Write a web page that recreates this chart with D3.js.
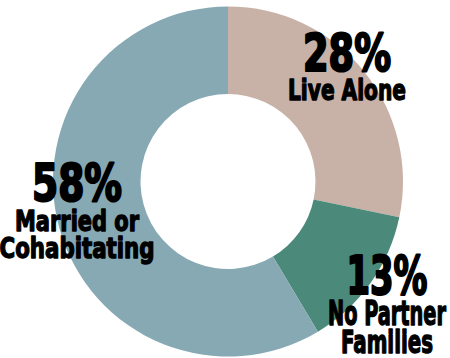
<!DOCTYPE html>
<html>
<head>
<meta charset="utf-8">
<script src="https://cdn.jsdelivr.net/npm/d3@7"></script>
<style>
  html, body { margin: 0; padding: 0; background: #fff; }
  svg { display: block; }
  .pct, .name {
    font-family: "Liberation Sans Narrow", "DejaVu Sans Condensed", "Arial Narrow", sans-serif;
    font-weight: 700;
    fill: #000;
    stroke: #000;
    stroke-linejoin: round;
  }
</style>
</head>
<body>
<svg id="chart" width="450" height="358"></svg>
<script>
// Household arrangement shares (percent)
const categories = ["Live Alone", "No Partner Families", "Married or Cohabitating"];
const values = [28, 13, 58];
const colors = ["#c8b1a6", "#4b8a7a", "#86a9b3"];

// Label lines per category
const labelLines = [["Live Alone"], ["No Partner", "Families"], ["Married or", "Cohabitating"]];

// Label placement (offsets from the donut centre) and fitted widths
const labelLayout = [
  { x: 119, pctY: -111, pctSize: 52, pctW: 88,
    lines: [{ dy: -82, size: 28, w: 118 }] },
  { x: 159, pctY: 112, pctSize: 54, pctW: 81,
    lines: [{ dy: 143, size: 33, w: 118 }, { dy: 171, size: 32, w: 92 }] },
  { x: -151, pctY: 19, pctSize: 52, pctW: 90,
    lines: [{ dy: 49, size: 28, w: 124 }, { dy: 76, size: 28, w: 155 }] }
];

const cx = 228, cy = 181.5, outerR = 175, innerR = 87.5;

const svg = d3.select("#chart");
const g = svg.append("g").attr("transform", `translate(${cx},${cy})`);

const pie = d3.pie().sort(null).value(d => d.value);
const arc = d3.arc().innerRadius(innerR).outerRadius(outerR);

const data = categories.map((c, i) => ({ category: c, value: values[i], color: colors[i] }));

g.selectAll("path.slice")
  .data(pie(data))
  .join("path")
  .attr("class", "slice")
  .attr("d", arc)
  .attr("fill", d => d.data.color);

// Labels: big percentage with the category name underneath
data.forEach((d, i) => {
  const L = labelLayout[i];
  const lg = g.append("g").attr("text-anchor", "middle");
  lg.append("text")
    .attr("class", "pct")
    .attr("x", L.x)
    .attr("y", L.pctY)
    .attr("font-size", L.pctSize)
    .attr("stroke-width", 2.2)
    .attr("textLength", L.pctW)
    .attr("lengthAdjust", "spacingAndGlyphs")
    .text(`${d.value}%`);
  labelLines[i].forEach((t, j) => {
    const ln = L.lines[j];
    lg.append("text")
      .attr("class", "name")
      .attr("x", L.x)
      .attr("y", ln.dy)
      .attr("font-size", ln.size)
      .attr("stroke-width", 1.3)
      .attr("textLength", ln.w)
      .attr("lengthAdjust", "spacingAndGlyphs")
      .text(t);
  });
});
</script>
</body>
</html>
